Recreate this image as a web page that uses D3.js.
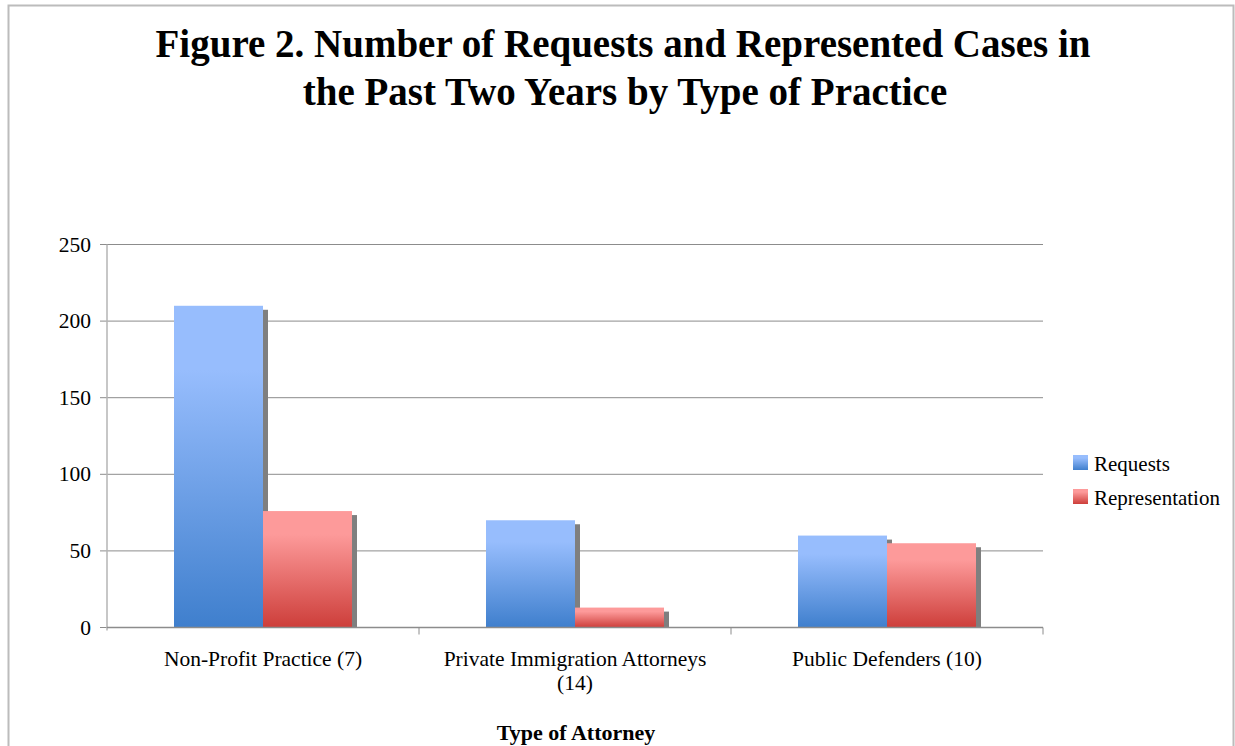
<!DOCTYPE html>
<html>
<head>
<meta charset="utf-8">
<script src="https://cdn.jsdelivr.net/npm/d3@7"></script>
<style>
  body { margin: 0; background: #fff; }
  svg { display: block; font-family: "Liberation Serif", "Times New Roman", serif; }
</style>
</head>
<body>
<div id="chart"></div>
<script>
// Chart values
var categories = ["Non-Profit Practice (7)", "Private Immigration Attorneys (14)", "Public Defenders (10)"];
var categoryLines = [["Non-Profit Practice (7)"], ["Private Immigration Attorneys", "(14)"], ["Public Defenders (10)"]];
var seriesNames = ["Requests", "Representation"];
var requests = [210, 70, 60];
var representation = [76, 13, 55];
var yTicks = [0, 50, 100, 150, 200, 250];

var W = 1235, H = 746;
var margin = { top: 244.5, right: 192, bottom: 118, left: 107 };
var width = 1043 - margin.left;
var height = 627.5 - margin.top;

var svg = d3.select("#chart").append("svg")
    .attr("width", W)
    .attr("height", H);

// Gradients for bars
var defs = svg.append("defs");
function addGrad(id, top, bottom) {
    var g = defs.append("linearGradient")
        .attr("id", id)
        .attr("x1", 0).attr("y1", 0).attr("x2", 0).attr("y2", 1);
    g.append("stop").attr("offset", "0%").attr("stop-color", top);
    g.append("stop").attr("offset", "20%").attr("stop-color", top);
    g.append("stop").attr("offset", "100%").attr("stop-color", bottom);
}
addGrad("gradBlue", "#97bdfd", "#3f7fcd");
addGrad("gradRed", "#fd9a9a", "#cd3e3a");
var fills = ["url(#gradBlue)", "url(#gradRed)"];

// Outer border of the chart area
svg.append("path")
    .attr("d", "M8.5," + H + "V5.5H1233.5V" + H)
    .attr("fill", "none")
    .attr("stroke", "#bcbcbc")
    .attr("stroke-width", 2);

// Title
var title = svg.append("text")
    .attr("text-anchor", "middle")
    .attr("font-size", "39px")
    .attr("font-weight", "bold")
    .attr("fill", "#000");
title.append("tspan").attr("x", 623).attr("y", 57)
    .text("Figure 2. Number of Requests and Represented Cases in");
title.append("tspan").attr("x", 625).attr("y", 105)
    .text("the Past Two Years by Type of Practice");

var g = svg.append("g")
    .attr("transform", "translate(" + margin.left + "," + margin.top + ")");

// Scales
var x0 = d3.scaleBand()
    .domain(categories)
    .range([0, width])
    .paddingInner(0)
    .paddingOuter(0);

var x1 = d3.scaleBand()
    .domain(seriesNames)
    .range([67, x0.bandwidth() - 67])
    .padding(0);

var y = d3.scaleLinear()
    .domain([0, 250])
    .range([height, 0]);

// Gridlines
g.selectAll(".grid")
    .data(yTicks)
    .enter().append("line")
    .attr("class", "grid")
    .attr("x1", -7)
    .attr("x2", width)
    .attr("y1", function (d) { return y(d); })
    .attr("y2", function (d) { return y(d); })
    .attr("stroke", "#8c8c8c")
    .attr("stroke-width", 1);

// Y tick labels
g.selectAll(".ylab")
    .data(yTicks)
    .enter().append("text")
    .attr("class", "ylab")
    .attr("x", -16)
    .attr("y", function (d) { return y(d) + 7; })
    .attr("text-anchor", "end")
    .attr("font-size", "21.5px")
    .attr("fill", "#000")
    .text(function (d) { return d; });

// Y axis line
g.append("line")
    .attr("x1", 0).attr("x2", 0)
    .attr("y1", 0).attr("y2", height + 3)
    .attr("stroke", "#b4b4b4")
    .attr("stroke-width", 1.5);

// Build bar data
var barData = [];
categories.forEach(function (c, i) {
    barData.push({ cat: c, series: seriesNames[0], value: requests[i], idx: 0 });
    barData.push({ cat: c, series: seriesNames[1], value: representation[i], idx: 1 });
});

// Shadows
g.selectAll(".shadow")
    .data(barData)
    .enter().append("rect")
    .attr("class", "shadow")
    .attr("x", function (d) { return x0(d.cat) + x1(d.series) + x1.bandwidth(); })
    .attr("y", function (d) { return y(d.value) + 4; })
    .attr("width", 5)
    .attr("height", function (d) { return height - y(d.value) - 4; })
    .attr("fill", "#7f7f7f");

// Bars
g.selectAll(".bar")
    .data(barData)
    .enter().append("rect")
    .attr("class", "bar")
    .attr("x", function (d) { return x0(d.cat) + x1(d.series); })
    .attr("y", function (d) { return y(d.value); })
    .attr("width", x1.bandwidth())
    .attr("height", function (d) { return height - y(d.value); })
    .attr("fill", function (d) { return fills[d.idx]; });

// X axis line and category ticks
g.append("line")
    .attr("x1", 0).attr("x2", width)
    .attr("y1", height).attr("y2", height)
    .attr("stroke", "#8c8c8c")
    .attr("stroke-width", 1.5);

var boundaries = categories.map(function (c) { return x0(c) + x0.bandwidth(); });
g.selectAll(".xtick")
    .data(boundaries)
    .enter().append("line")
    .attr("class", "xtick")
    .attr("x1", function (d) { return d; })
    .attr("x2", function (d) { return d; })
    .attr("y1", height)
    .attr("y2", height + 7)
    .attr("stroke", "#8c8c8c")
    .attr("stroke-width", 1);

// Category labels
categories.forEach(function (c, i) {
    var t = g.append("text")
        .attr("text-anchor", "middle")
        .attr("font-size", "21.5px")
        .attr("fill", "#000");
    categoryLines[i].forEach(function (line, j) {
        t.append("tspan")
            .attr("x", x0(c) + x0.bandwidth() / 2)
            .attr("y", height + 38 + j * 24)
            .text(line);
    });
});

// X axis title
svg.append("text")
    .attr("x", 576)
    .attr("y", 740)
    .attr("text-anchor", "middle")
    .attr("font-size", "22px")
    .attr("font-weight", "bold")
    .attr("fill", "#000")
    .text("Type of Attorney");

// Legend
var legend = svg.append("g")
    .attr("transform", "translate(1073, 455)");

seriesNames.forEach(function (s, i) {
    var row = legend.append("g")
        .attr("transform", "translate(0, " + i * 34 + ")");
    row.append("rect")
        .attr("width", 15)
        .attr("height", 15)
        .attr("fill", fills[i]);
    row.append("text")
        .attr("x", 21)
        .attr("y", 16)
        .attr("font-size", "21px")
        .attr("fill", "#000")
        .text(s);
});
</script>
</body>
</html>
